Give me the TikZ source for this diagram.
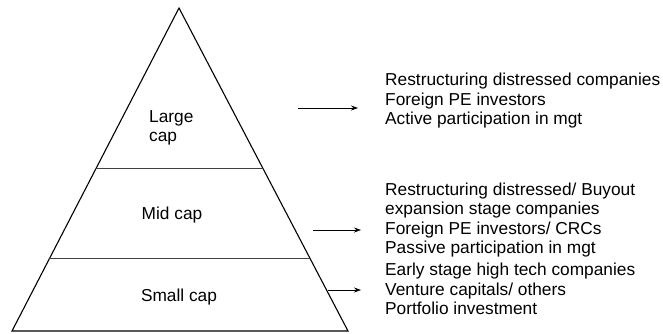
\documentclass[tikz,border=0pt]{standalone}
\usepackage{fontspec}
\setmainfont{Liberation Sans}
\usepackage{tikz}
\usetikzlibrary{
  arrows.meta,
  calc,
  positioning
}
\tikzset{
  >={Stealth[length=7pt, width=5pt]},
  tier/.style = {inner sep=0pt, font=\fontsize{17.3}{19.5}\selectfont},
  notes/.style = {tier, align=left, anchor=west},
  edge/.style = {line width=1.1pt},
  rule/.style = {line width=1.1pt, black!75},
  pointer/.style = {->, line width=0.7pt},
}

\begin{document}
\begin{tikzpicture}[x=1pt, y=-1pt]
\useasboundingbox (0,0) rectangle (663,333);
\coordinate (apex) at (179,8);
\coordinate (bl) at (12,331);
\coordinate (br) at (348,331);
\draw[edge] (apex) -- (bl) -- (br) -- cycle;
\coordinate (d1l) at ($(apex)!0.497!(bl)$);
\coordinate (d1r) at ($(apex)!0.497!(br)$);
\coordinate (d2l) at ($(apex)!0.776!(bl)$);
\coordinate (d2r) at ($(apex)!0.776!(br)$);
\draw[rule] (d1l) -- (d1r);
\draw[rule] (d2l) -- (d2r);
\node[tier, align=left, anchor=west] (large) at (149,128) {Large\\cap};
\node[tier] (mid) at (172,215) {Mid cap};
\node[tier] (small) at (179,297) {Small cap};
\node[notes] (topnote) at (385,101) {Restructuring distressed companies\\
  Foreign PE investors\\Active participation in mgt};
\node[notes] (midnote) at (385,220) {Restructuring distressed/ Buyout\\
  expansion stage companies\\Foreign PE investors/ CRCs\\
  Passive participation in mgt};
\node[notes] (lownote) at (385,289) {Early stage high tech companies\\
  Venture capitals/ others\\Portfolio investment};
\coordinate (a1) at (298,108);
\coordinate (a2) at (313,230);
\coordinate (a3) at (328,290);
\draw[pointer] (a1) -- ($(a1 -| topnote.west)+(-27,0)$);
\draw[pointer] (a2) -- ($(a2 -| midnote.west)+(-24,0)$);
\draw[pointer] (a3) -- ($(a3 -| lownote.west)+(-24,0)$);
\end{tikzpicture}
\end{document}
